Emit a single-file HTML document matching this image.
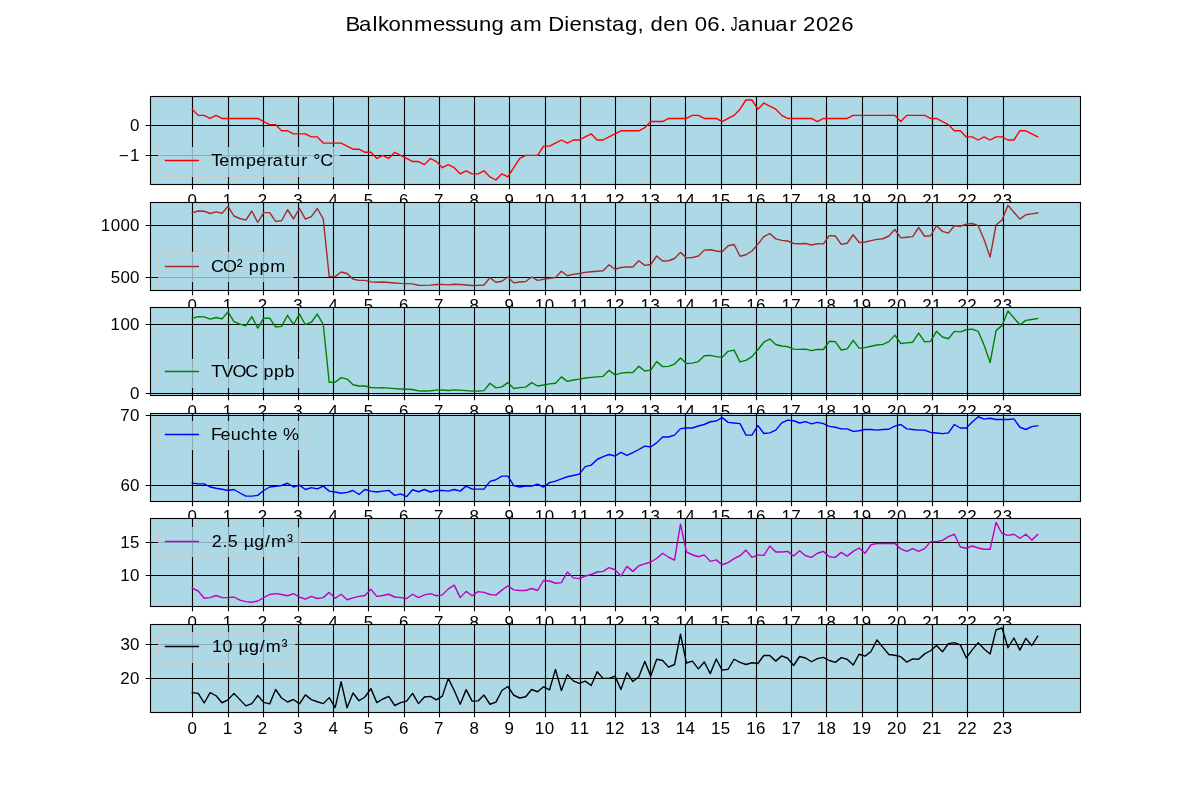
<!DOCTYPE html>
<html><head><meta charset="utf-8"><title>Balkonmessung</title>
<style>html,body{margin:0;padding:0;background:#fff}body{width:1200px;height:800px;overflow:hidden}svg{display:block;will-change:transform;font-family:"Liberation Sans",sans-serif}</style></head>
<body>
<svg width="1200" height="800" viewBox="0 0 1200 800">
<rect width="1200" height="800" fill="#fff"/>
<text transform="translate(0 30.90) scale(1.07 1)" x="322.94 335.55 348.06 353.30 363.08 374.75 386.93 404.63 415.93 425.67 435.71 447.63 459.35 471.23 476.32 489.06 506.84 512.41 527.38 532.30 543.97 555.44 566.09 571.92 584.21 595.90 602.04 607.96 619.78 631.45 643.19 649.22 661.11 672.91 678.86 682.92 689.46 701.88 713.64 724.61 737.55 744.60 750.38 762.52 774.17 786.30" y="0" font-size="20.70" fill="#000">Balkonmessung am Dienstag, den 06. <tspan textLength="6.42" lengthAdjust="spacingAndGlyphs">J</tspan>anuar 2026</text>
<g>
<rect x="150" y="96" width="930" height="88" fill="#add8e6"/>
<path d="M192.5 96V184M228.5 96V184M263.5 96V184M298.5 96V184M333.5 96V184M368.5 96V184M404.5 96V184M439.5 96V184M474.5 96V184M509.5 96V184M545.5 96V184M580.5 96V184M615.5 96V184M650.5 96V184M685.5 96V184M721.5 96V184M756.5 96V184M791.5 96V184M826.5 96V184M862.5 96V184M897.5 96V184M932.5 96V184M967.5 96V184M1003.5 96V184M150 125.5H1080M150 155.5H1080" stroke="#000" stroke-width="1.11" fill="none"/>
<polyline points="192.27,109.23 198.22,115.38 204.18,115.38 210.13,118.46 216.09,115.38 222.04,118.46 227.99,118.46 233.95,118.46 239.90,118.46 245.86,118.46 251.81,118.46 257.76,118.46 263.72,121.54 269.67,124.62 275.63,124.62 281.58,130.77 287.53,130.77 293.49,133.85 299.44,133.85 305.39,133.85 311.35,136.92 317.30,136.92 323.26,143.08 329.21,143.08 335.16,143.08 341.12,143.08 347.07,146.15 353.03,149.23 358.98,149.23 364.93,152.31 370.89,152.31 376.84,158.46 382.80,155.38 388.75,158.46 394.70,152.31 400.66,155.38 406.61,158.46 412.57,161.54 418.52,161.54 424.47,164.61 430.43,158.46 436.38,161.54 442.34,167.69 448.29,164.61 454.24,167.69 460.20,173.85 466.15,170.77 472.11,173.85 478.06,173.85 484.01,170.77 489.97,176.92 495.92,180.00 501.88,173.85 507.83,176.92 513.78,167.69 519.74,158.46 525.69,155.38 531.64,155.38 537.60,155.38 543.55,146.15 549.51,146.15 555.46,143.08 561.41,140.00 567.37,143.08 573.32,140.00 579.28,140.00 585.23,136.92 591.18,133.85 597.14,140.00 603.09,140.00 609.05,136.92 615.00,133.85 620.95,130.77 626.91,130.77 632.86,130.77 638.82,130.77 644.77,127.69 650.72,121.54 656.68,121.54 662.63,121.54 668.59,118.46 674.54,118.46 680.49,118.46 686.45,118.46 692.40,115.38 698.36,115.38 704.31,118.46 710.26,118.46 716.22,118.46 722.17,121.54 728.12,118.46 734.08,115.38 740.03,109.23 745.99,100.00 751.94,100.00 757.89,109.23 763.85,103.08 769.80,106.15 775.76,109.23 781.71,115.38 787.66,118.46 793.62,118.46 799.57,118.46 805.53,118.46 811.48,118.46 817.43,121.54 823.39,118.46 829.34,118.46 835.30,118.46 841.25,118.46 847.20,118.46 853.16,115.38 859.11,115.38 865.07,115.38 871.02,115.38 876.97,115.38 882.93,115.38 888.88,115.38 894.84,115.38 900.79,121.54 906.74,115.38 912.70,115.38 918.65,115.38 924.61,115.38 930.56,118.46 936.51,118.46 942.47,121.54 948.42,124.62 954.37,130.77 960.33,130.77 966.28,136.92 972.24,136.92 978.19,140.00 984.14,136.92 990.10,140.00 996.05,136.92 1002.01,136.92 1007.96,140.00 1013.91,140.00 1019.87,130.77 1025.82,130.77 1031.78,133.85 1037.73,136.92" fill="none" stroke="#ff0000" stroke-width="1.39" stroke-linejoin="round" stroke-linecap="square"/>
<path d="M192.5 184.5v4.86M228.5 184.5v4.86M263.5 184.5v4.86M298.5 184.5v4.86M333.5 184.5v4.86M368.5 184.5v4.86M404.5 184.5v4.86M439.5 184.5v4.86M474.5 184.5v4.86M509.5 184.5v4.86M545.5 184.5v4.86M580.5 184.5v4.86M615.5 184.5v4.86M650.5 184.5v4.86M685.5 184.5v4.86M721.5 184.5v4.86M756.5 184.5v4.86M791.5 184.5v4.86M826.5 184.5v4.86M862.5 184.5v4.86M897.5 184.5v4.86M932.5 184.5v4.86M967.5 184.5v4.86M1003.5 184.5v4.86M150.5 125.5h-4.86M150.5 155.5h-4.86" stroke="#000" stroke-width="1.11" fill="none"/>
<rect x="150.5" y="96.5" width="930" height="88.0" fill="none" stroke="#000" stroke-width="1.11"/>
<text transform="translate(0 205.65) scale(1.07 1)" x="175.29" y="0" font-size="15.81" fill="#000">0</text>
<text transform="translate(0 205.65) scale(1.07 1)" x="208.13" y="0" font-size="15.81" fill="#000">1</text>
<text transform="translate(0 205.65) scale(1.07 1)" x="240.95" y="0" font-size="15.81" fill="#000">2</text>
<text transform="translate(0 205.65) scale(1.07 1)" x="274.08" y="0" font-size="15.81" fill="#000">3</text>
<text transform="translate(0 205.65) scale(1.07 1)" x="306.99" y="0" font-size="15.81" fill="#000">4</text>
<text transform="translate(0 205.65) scale(1.07 1)" x="339.85" y="0" font-size="15.81" fill="#000">5</text>
<text transform="translate(0 205.65) scale(1.07 1)" x="372.83" y="0" font-size="15.81" fill="#000">6</text>
<text transform="translate(0 205.65) scale(1.07 1)" x="405.72" y="0" font-size="15.81" fill="#000">7</text>
<text transform="translate(0 205.65) scale(1.07 1)" x="438.68" y="0" font-size="15.81" fill="#000">8</text>
<text transform="translate(0 205.65) scale(1.07 1)" x="471.55" y="0" font-size="15.81" fill="#000">9</text>
<text transform="translate(0 205.65) scale(1.07 1)" x="499.89 509.06" y="0" font-size="15.81" fill="#000">10</text>
<text transform="translate(0 205.65) scale(1.07 1)" x="532.81 541.90" y="0" font-size="15.81" fill="#000">11</text>
<text transform="translate(0 205.65) scale(1.07 1)" x="565.74 574.72" y="0" font-size="15.81" fill="#000">12</text>
<text transform="translate(0 205.65) scale(1.07 1)" x="598.66 607.85" y="0" font-size="15.81" fill="#000">13</text>
<text transform="translate(0 205.65) scale(1.07 1)" x="631.58 640.75" y="0" font-size="15.81" fill="#000">14</text>
<text transform="translate(0 205.65) scale(1.07 1)" x="664.50 673.62" y="0" font-size="15.81" fill="#000">15</text>
<text transform="translate(0 205.65) scale(1.07 1)" x="697.43 706.60" y="0" font-size="15.81" fill="#000">16</text>
<text transform="translate(0 205.65) scale(1.07 1)" x="730.35 739.49" y="0" font-size="15.81" fill="#000">17</text>
<text transform="translate(0 205.65) scale(1.07 1)" x="763.27 772.44" y="0" font-size="15.81" fill="#000">18</text>
<text transform="translate(0 205.65) scale(1.07 1)" x="796.20 805.32" y="0" font-size="15.81" fill="#000">19</text>
<text transform="translate(0 205.65) scale(1.07 1)" x="829.02 838.29" y="0" font-size="15.81" fill="#000">20</text>
<text transform="translate(0 205.65) scale(1.07 1)" x="861.94 871.12" y="0" font-size="15.81" fill="#000">21</text>
<text transform="translate(0 205.65) scale(1.07 1)" x="894.86 903.95" y="0" font-size="15.81" fill="#000">22</text>
<text transform="translate(0 205.65) scale(1.07 1)" x="927.78 937.08" y="0" font-size="15.81" fill="#000">23</text>
<text transform="translate(0 130.80) scale(1.07 1)" x="121.62" y="0" font-size="15.81" fill="#000">0</text>
<text transform="translate(0 160.80) scale(1.07 1)" x="110.87 121.53" y="0" font-size="15.81" fill="#000">−1</text>
<rect x="158.5" y="147.5" width="181.00" height="28.90" rx="3.3" ry="3.3" fill="#add8e6" fill-opacity="0.8" stroke="#ccc" stroke-opacity="0.8" stroke-width="1.2"/>
<path d="M164.8 160.5H199.1" stroke="#ff0000" stroke-width="1.39" fill="none"/>
<text transform="translate(0 166.00) scale(1.04 1)" x="203.16 210.76 221.12 236.45 246.40 256.82 262.19 273.21 279.04 289.67 295.69 301.19 307.91" y="0" font-size="17.25" fill="#000">Temperatur °C</text>
</g>
<g>
<rect x="150" y="202" width="930" height="88" fill="#add8e6"/>
<path d="M192.5 202V290M228.5 202V290M263.5 202V290M298.5 202V290M333.5 202V290M368.5 202V290M404.5 202V290M439.5 202V290M474.5 202V290M509.5 202V290M545.5 202V290M580.5 202V290M615.5 202V290M650.5 202V290M685.5 202V290M721.5 202V290M756.5 202V290M791.5 202V290M826.5 202V290M862.5 202V290M897.5 202V290M932.5 202V290M967.5 202V290M1003.5 202V290M150 225.5H1080M150 277.5H1080" stroke="#000" stroke-width="1.11" fill="none"/>
<polyline points="192.27,212.88 198.22,211.00 204.18,211.25 210.13,213.50 216.09,211.88 222.04,213.25 227.99,206.38 233.95,216.00 239.90,218.50 245.86,220.12 251.81,211.00 257.76,222.50 263.72,212.62 269.67,212.62 275.63,221.38 281.58,220.75 287.53,209.75 293.49,218.88 299.44,208.50 305.39,219.12 311.35,216.62 317.30,208.50 323.26,218.88 329.21,276.62 335.16,276.62 341.12,272.00 347.07,273.50 353.03,279.12 358.98,280.38 364.93,280.38 370.89,281.88 376.84,282.25 382.80,282.00 388.75,282.50 394.70,283.00 400.66,283.38 406.61,283.62 412.57,283.88 418.52,285.25 424.47,285.38 430.43,285.12 436.38,284.50 442.34,284.38 448.29,284.88 454.24,284.25 460.20,284.50 466.15,285.00 472.11,285.50 478.06,285.38 484.01,285.00 489.97,277.62 495.92,282.25 501.88,281.25 507.83,277.00 513.78,282.88 519.74,282.00 525.69,281.50 531.64,277.00 537.60,280.38 543.55,279.38 549.51,278.25 555.46,277.62 561.41,271.25 567.37,275.75 573.32,274.38 579.28,273.50 585.23,272.38 591.18,271.75 597.14,271.25 603.09,270.75 609.05,264.75 615.00,269.25 620.95,267.50 626.91,266.88 632.86,267.00 638.82,260.75 644.77,265.38 650.72,264.50 656.68,256.00 662.63,261.00 668.59,260.75 674.54,258.50 680.49,252.38 686.45,257.88 692.40,257.50 698.36,256.00 704.31,250.12 710.26,249.75 716.22,251.00 722.17,251.75 728.12,245.75 734.08,244.50 740.03,256.25 745.99,254.75 751.94,251.00 757.89,244.12 763.85,236.62 769.80,233.50 775.76,238.88 781.71,240.38 787.66,241.00 793.62,243.50 799.57,243.75 805.53,243.50 811.48,245.00 817.43,243.75 823.39,243.88 829.34,235.62 835.30,236.00 841.25,244.38 847.20,243.25 853.16,234.75 859.11,242.50 865.07,242.00 871.02,240.62 876.97,239.38 882.93,238.75 888.88,236.00 894.84,229.50 900.79,237.88 906.74,237.25 912.70,236.62 918.65,227.50 924.61,236.25 930.56,235.75 936.51,225.75 942.47,231.38 948.42,233.12 954.37,225.75 960.33,226.25 966.28,224.12 972.24,223.50 978.19,225.75 984.14,239.75 990.10,257.00 996.05,225.00 1002.01,220.00 1007.96,205.38 1013.91,212.25 1019.87,219.12 1025.82,214.75 1031.78,213.88 1037.73,212.88" fill="none" stroke="#a52a2a" stroke-width="1.39" stroke-linejoin="round" stroke-linecap="square"/>
<path d="M192.5 290.5v4.86M228.5 290.5v4.86M263.5 290.5v4.86M298.5 290.5v4.86M333.5 290.5v4.86M368.5 290.5v4.86M404.5 290.5v4.86M439.5 290.5v4.86M474.5 290.5v4.86M509.5 290.5v4.86M545.5 290.5v4.86M580.5 290.5v4.86M615.5 290.5v4.86M650.5 290.5v4.86M685.5 290.5v4.86M721.5 290.5v4.86M756.5 290.5v4.86M791.5 290.5v4.86M826.5 290.5v4.86M862.5 290.5v4.86M897.5 290.5v4.86M932.5 290.5v4.86M967.5 290.5v4.86M1003.5 290.5v4.86M150.5 225.5h-4.86M150.5 277.5h-4.86" stroke="#000" stroke-width="1.11" fill="none"/>
<rect x="150.5" y="202.5" width="930" height="88.0" fill="none" stroke="#000" stroke-width="1.11"/>
<text transform="translate(0 311.25) scale(1.07 1)" x="175.29" y="0" font-size="15.81" fill="#000">0</text>
<text transform="translate(0 311.25) scale(1.07 1)" x="208.13" y="0" font-size="15.81" fill="#000">1</text>
<text transform="translate(0 311.25) scale(1.07 1)" x="240.95" y="0" font-size="15.81" fill="#000">2</text>
<text transform="translate(0 311.25) scale(1.07 1)" x="274.08" y="0" font-size="15.81" fill="#000">3</text>
<text transform="translate(0 311.25) scale(1.07 1)" x="306.99" y="0" font-size="15.81" fill="#000">4</text>
<text transform="translate(0 311.25) scale(1.07 1)" x="339.85" y="0" font-size="15.81" fill="#000">5</text>
<text transform="translate(0 311.25) scale(1.07 1)" x="372.83" y="0" font-size="15.81" fill="#000">6</text>
<text transform="translate(0 311.25) scale(1.07 1)" x="405.72" y="0" font-size="15.81" fill="#000">7</text>
<text transform="translate(0 311.25) scale(1.07 1)" x="438.68" y="0" font-size="15.81" fill="#000">8</text>
<text transform="translate(0 311.25) scale(1.07 1)" x="471.55" y="0" font-size="15.81" fill="#000">9</text>
<text transform="translate(0 311.25) scale(1.07 1)" x="499.89 509.06" y="0" font-size="15.81" fill="#000">10</text>
<text transform="translate(0 311.25) scale(1.07 1)" x="532.81 541.90" y="0" font-size="15.81" fill="#000">11</text>
<text transform="translate(0 311.25) scale(1.07 1)" x="565.74 574.72" y="0" font-size="15.81" fill="#000">12</text>
<text transform="translate(0 311.25) scale(1.07 1)" x="598.66 607.85" y="0" font-size="15.81" fill="#000">13</text>
<text transform="translate(0 311.25) scale(1.07 1)" x="631.58 640.75" y="0" font-size="15.81" fill="#000">14</text>
<text transform="translate(0 311.25) scale(1.07 1)" x="664.50 673.62" y="0" font-size="15.81" fill="#000">15</text>
<text transform="translate(0 311.25) scale(1.07 1)" x="697.43 706.60" y="0" font-size="15.81" fill="#000">16</text>
<text transform="translate(0 311.25) scale(1.07 1)" x="730.35 739.49" y="0" font-size="15.81" fill="#000">17</text>
<text transform="translate(0 311.25) scale(1.07 1)" x="763.27 772.44" y="0" font-size="15.81" fill="#000">18</text>
<text transform="translate(0 311.25) scale(1.07 1)" x="796.20 805.32" y="0" font-size="15.81" fill="#000">19</text>
<text transform="translate(0 311.25) scale(1.07 1)" x="829.02 838.29" y="0" font-size="15.81" fill="#000">20</text>
<text transform="translate(0 311.25) scale(1.07 1)" x="861.94 871.12" y="0" font-size="15.81" fill="#000">21</text>
<text transform="translate(0 311.25) scale(1.07 1)" x="894.86 903.95" y="0" font-size="15.81" fill="#000">22</text>
<text transform="translate(0 311.25) scale(1.07 1)" x="927.78 937.08" y="0" font-size="15.81" fill="#000">23</text>
<text transform="translate(0 230.80) scale(1.07 1)" x="94.28 103.45 112.53 121.62" y="0" font-size="15.81" fill="#000">1000</text>
<text transform="translate(0 282.80) scale(1.07 1)" x="103.40 112.53 121.62" y="0" font-size="15.81" fill="#000">500</text>
<rect x="158.5" y="252.4" width="134.10" height="29.10" rx="3.3" ry="3.3" fill="#add8e6" fill-opacity="0.8" stroke="#ccc" stroke-opacity="0.8" stroke-width="1.2"/>
<path d="M164.8 266.5H199.1" stroke="#a52a2a" stroke-width="1.39" fill="none"/>
<text transform="translate(0 272.10) scale(1.04 1)" x="202.80 214.32 227.53 233.91 239.24 249.41 259.86" y="0" font-size="17.25" fill="#000">CO² ppm</text>
</g>
<g>
<rect x="150" y="307" width="930" height="88" fill="#add8e6"/>
<path d="M192.5 307V395M228.5 307V395M263.5 307V395M298.5 307V395M333.5 307V395M368.5 307V395M404.5 307V395M439.5 307V395M474.5 307V395M509.5 307V395M545.5 307V395M580.5 307V395M615.5 307V395M650.5 307V395M685.5 307V395M721.5 307V395M756.5 307V395M791.5 307V395M826.5 307V395M862.5 307V395M897.5 307V395M932.5 307V395M967.5 307V395M1003.5 307V395M150 324.5H1080M150 393.5H1080" stroke="#000" stroke-width="1.11" fill="none"/>
<polyline points="192.27,318.48 198.22,316.60 204.18,316.85 210.13,319.10 216.09,317.48 222.04,318.85 227.99,311.98 233.95,321.60 239.90,324.10 245.86,325.73 251.81,316.60 257.76,328.10 263.72,318.23 269.67,318.23 275.63,326.98 281.58,326.35 287.53,315.35 293.49,324.48 299.44,314.10 305.39,324.73 311.35,322.23 317.30,314.10 323.26,324.48 329.21,382.23 335.16,382.23 341.12,377.60 347.07,379.10 353.03,384.73 358.98,385.98 364.93,385.98 370.89,387.48 376.84,387.85 382.80,387.60 388.75,388.10 394.70,388.60 400.66,388.98 406.61,389.23 412.57,389.48 418.52,390.85 424.47,390.98 430.43,390.73 436.38,390.10 442.34,389.98 448.29,390.48 454.24,389.85 460.20,390.10 466.15,390.60 472.11,391.10 478.06,390.98 484.01,390.60 489.97,383.23 495.92,387.85 501.88,386.85 507.83,382.60 513.78,388.48 519.74,387.60 525.69,387.10 531.64,382.60 537.60,385.98 543.55,384.98 549.51,383.85 555.46,383.23 561.41,376.85 567.37,381.35 573.32,379.98 579.28,379.10 585.23,377.98 591.18,377.35 597.14,376.85 603.09,376.35 609.05,370.35 615.00,374.85 620.95,373.10 626.91,372.48 632.86,372.60 638.82,366.35 644.77,370.98 650.72,370.10 656.68,361.60 662.63,366.60 668.59,366.35 674.54,364.10 680.49,357.98 686.45,363.48 692.40,363.10 698.36,361.60 704.31,355.73 710.26,355.35 716.22,356.60 722.17,357.35 728.12,351.35 734.08,350.10 740.03,361.85 745.99,360.35 751.94,356.60 757.89,349.73 763.85,342.23 769.80,339.10 775.76,344.48 781.71,345.98 787.66,346.60 793.62,349.10 799.57,349.35 805.53,349.10 811.48,350.60 817.43,349.35 823.39,349.48 829.34,341.23 835.30,341.60 841.25,349.98 847.20,348.85 853.16,340.35 859.11,348.10 865.07,347.60 871.02,346.23 876.97,344.98 882.93,344.35 888.88,341.60 894.84,335.10 900.79,343.48 906.74,342.85 912.70,342.23 918.65,333.10 924.61,341.85 930.56,341.35 936.51,331.35 942.47,336.98 948.42,338.73 954.37,331.35 960.33,331.85 966.28,329.73 972.24,329.10 978.19,331.35 984.14,345.35 990.10,362.60 996.05,330.60 1002.01,325.60 1007.96,310.98 1013.91,317.85 1019.87,324.73 1025.82,320.35 1031.78,319.48 1037.73,318.48" fill="none" stroke="#008000" stroke-width="1.39" stroke-linejoin="round" stroke-linecap="square"/>
<path d="M192.5 395.5v4.86M228.5 395.5v4.86M263.5 395.5v4.86M298.5 395.5v4.86M333.5 395.5v4.86M368.5 395.5v4.86M404.5 395.5v4.86M439.5 395.5v4.86M474.5 395.5v4.86M509.5 395.5v4.86M545.5 395.5v4.86M580.5 395.5v4.86M615.5 395.5v4.86M650.5 395.5v4.86M685.5 395.5v4.86M721.5 395.5v4.86M756.5 395.5v4.86M791.5 395.5v4.86M826.5 395.5v4.86M862.5 395.5v4.86M897.5 395.5v4.86M932.5 395.5v4.86M967.5 395.5v4.86M1003.5 395.5v4.86M150.5 324.5h-4.86M150.5 393.5h-4.86" stroke="#000" stroke-width="1.11" fill="none"/>
<rect x="150.5" y="307.5" width="930" height="88.0" fill="none" stroke="#000" stroke-width="1.11"/>
<text transform="translate(0 416.85) scale(1.07 1)" x="175.29" y="0" font-size="15.81" fill="#000">0</text>
<text transform="translate(0 416.85) scale(1.07 1)" x="208.13" y="0" font-size="15.81" fill="#000">1</text>
<text transform="translate(0 416.85) scale(1.07 1)" x="240.95" y="0" font-size="15.81" fill="#000">2</text>
<text transform="translate(0 416.85) scale(1.07 1)" x="274.08" y="0" font-size="15.81" fill="#000">3</text>
<text transform="translate(0 416.85) scale(1.07 1)" x="306.99" y="0" font-size="15.81" fill="#000">4</text>
<text transform="translate(0 416.85) scale(1.07 1)" x="339.85" y="0" font-size="15.81" fill="#000">5</text>
<text transform="translate(0 416.85) scale(1.07 1)" x="372.83" y="0" font-size="15.81" fill="#000">6</text>
<text transform="translate(0 416.85) scale(1.07 1)" x="405.72" y="0" font-size="15.81" fill="#000">7</text>
<text transform="translate(0 416.85) scale(1.07 1)" x="438.68" y="0" font-size="15.81" fill="#000">8</text>
<text transform="translate(0 416.85) scale(1.07 1)" x="471.55" y="0" font-size="15.81" fill="#000">9</text>
<text transform="translate(0 416.85) scale(1.07 1)" x="499.89 509.06" y="0" font-size="15.81" fill="#000">10</text>
<text transform="translate(0 416.85) scale(1.07 1)" x="532.81 541.90" y="0" font-size="15.81" fill="#000">11</text>
<text transform="translate(0 416.85) scale(1.07 1)" x="565.74 574.72" y="0" font-size="15.81" fill="#000">12</text>
<text transform="translate(0 416.85) scale(1.07 1)" x="598.66 607.85" y="0" font-size="15.81" fill="#000">13</text>
<text transform="translate(0 416.85) scale(1.07 1)" x="631.58 640.75" y="0" font-size="15.81" fill="#000">14</text>
<text transform="translate(0 416.85) scale(1.07 1)" x="664.50 673.62" y="0" font-size="15.81" fill="#000">15</text>
<text transform="translate(0 416.85) scale(1.07 1)" x="697.43 706.60" y="0" font-size="15.81" fill="#000">16</text>
<text transform="translate(0 416.85) scale(1.07 1)" x="730.35 739.49" y="0" font-size="15.81" fill="#000">17</text>
<text transform="translate(0 416.85) scale(1.07 1)" x="763.27 772.44" y="0" font-size="15.81" fill="#000">18</text>
<text transform="translate(0 416.85) scale(1.07 1)" x="796.20 805.32" y="0" font-size="15.81" fill="#000">19</text>
<text transform="translate(0 416.85) scale(1.07 1)" x="829.02 838.29" y="0" font-size="15.81" fill="#000">20</text>
<text transform="translate(0 416.85) scale(1.07 1)" x="861.94 871.12" y="0" font-size="15.81" fill="#000">21</text>
<text transform="translate(0 416.85) scale(1.07 1)" x="894.86 903.95" y="0" font-size="15.81" fill="#000">22</text>
<text transform="translate(0 416.85) scale(1.07 1)" x="927.78 937.08" y="0" font-size="15.81" fill="#000">23</text>
<text transform="translate(0 329.80) scale(1.07 1)" x="103.36 112.53 121.62" y="0" font-size="15.81" fill="#000">100</text>
<text transform="translate(0 398.80) scale(1.07 1)" x="121.62" y="0" font-size="15.81" fill="#000">0</text>
<rect x="158.5" y="359.5" width="143.20" height="28.00" rx="3.3" ry="3.3" fill="#add8e6" fill-opacity="0.8" stroke="#ccc" stroke-opacity="0.8" stroke-width="1.2"/>
<path d="M164.8 371.5H199.1" stroke="#008000" stroke-width="1.39" fill="none"/>
<text transform="translate(0 377.10) scale(1.04 1)" x="203.16 213.04 223.60 235.89 247.95 253.28 263.45 273.63" y="0" font-size="17.25" fill="#000">TVOC ppb</text>
</g>
<g>
<rect x="150" y="413" width="930" height="88" fill="#add8e6"/>
<path d="M192.5 413V501M228.5 413V501M263.5 413V501M298.5 413V501M333.5 413V501M368.5 413V501M404.5 413V501M439.5 413V501M474.5 413V501M509.5 413V501M545.5 413V501M580.5 413V501M615.5 413V501M650.5 413V501M685.5 413V501M721.5 413V501M756.5 413V501M791.5 413V501M826.5 413V501M862.5 413V501M897.5 413V501M932.5 413V501M967.5 413V501M1003.5 413V501M150 415.5H1080M150 485.5H1080" stroke="#000" stroke-width="1.11" fill="none"/>
<polyline points="192.27,483.25 198.22,483.88 204.18,483.88 210.13,487.00 216.09,488.25 222.04,489.25 227.99,490.50 233.95,489.50 239.90,493.00 245.86,496.12 251.81,496.12 257.76,495.38 263.72,490.50 269.67,487.00 275.63,486.38 281.58,485.50 287.53,483.25 293.49,487.00 299.44,485.12 305.39,489.50 311.35,487.62 317.30,488.88 323.26,486.12 329.21,491.12 335.16,492.00 341.12,493.25 347.07,492.38 353.03,490.50 358.98,494.50 364.93,489.50 370.89,491.12 376.84,492.00 382.80,491.12 388.75,490.38 394.70,495.38 400.66,493.88 406.61,496.62 412.57,489.75 418.52,491.75 424.47,489.50 430.43,492.00 436.38,490.50 442.34,490.38 448.29,491.12 454.24,489.50 460.20,491.12 466.15,486.12 472.11,489.12 478.06,489.12 484.01,489.12 489.97,481.38 495.92,479.75 501.88,476.12 507.83,476.12 513.78,485.50 519.74,487.00 525.69,486.12 531.64,486.12 537.60,484.25 543.55,487.00 549.51,482.62 555.46,481.12 561.41,478.88 567.37,476.75 573.32,475.50 579.28,474.12 585.23,466.62 591.18,465.12 597.14,459.50 603.09,456.62 609.05,454.50 615.00,456.00 620.95,452.38 626.91,455.38 632.86,452.62 638.82,449.50 644.77,446.12 650.72,447.00 656.68,442.88 662.63,437.00 668.59,437.00 674.54,435.12 680.49,428.62 686.45,428.00 692.40,428.00 698.36,426.00 704.31,424.50 710.26,421.75 716.22,421.00 722.17,417.62 728.12,422.38 734.08,423.00 740.03,423.62 745.99,435.12 751.94,435.12 757.89,425.50 763.85,433.50 769.80,432.88 775.76,430.12 781.71,422.88 787.66,420.12 793.62,420.75 799.57,423.00 805.53,421.62 811.48,423.88 817.43,422.38 823.39,423.62 829.34,426.38 835.30,427.25 841.25,428.88 847.20,428.88 853.16,431.38 859.11,430.75 865.07,429.50 871.02,429.50 876.97,430.12 882.93,429.50 888.88,429.25 894.84,426.12 900.79,424.50 906.74,428.88 912.70,429.50 918.65,430.12 924.61,430.12 930.56,432.38 936.51,433.00 942.47,433.62 948.42,432.88 954.37,424.50 960.33,428.00 966.28,428.00 972.24,422.00 978.19,416.75 984.14,419.12 990.10,418.25 996.05,419.50 1002.01,419.50 1007.96,419.50 1013.91,418.88 1019.87,427.25 1025.82,429.50 1031.78,426.62 1037.73,425.75" fill="none" stroke="#0000ff" stroke-width="1.39" stroke-linejoin="round" stroke-linecap="square"/>
<path d="M192.5 501.5v4.86M228.5 501.5v4.86M263.5 501.5v4.86M298.5 501.5v4.86M333.5 501.5v4.86M368.5 501.5v4.86M404.5 501.5v4.86M439.5 501.5v4.86M474.5 501.5v4.86M509.5 501.5v4.86M545.5 501.5v4.86M580.5 501.5v4.86M615.5 501.5v4.86M650.5 501.5v4.86M685.5 501.5v4.86M721.5 501.5v4.86M756.5 501.5v4.86M791.5 501.5v4.86M826.5 501.5v4.86M862.5 501.5v4.86M897.5 501.5v4.86M932.5 501.5v4.86M967.5 501.5v4.86M1003.5 501.5v4.86M150.5 415.5h-4.86M150.5 485.5h-4.86" stroke="#000" stroke-width="1.11" fill="none"/>
<rect x="150.5" y="413.5" width="930" height="88.0" fill="none" stroke="#000" stroke-width="1.11"/>
<text transform="translate(0 522.45) scale(1.07 1)" x="175.29" y="0" font-size="15.81" fill="#000">0</text>
<text transform="translate(0 522.45) scale(1.07 1)" x="208.13" y="0" font-size="15.81" fill="#000">1</text>
<text transform="translate(0 522.45) scale(1.07 1)" x="240.95" y="0" font-size="15.81" fill="#000">2</text>
<text transform="translate(0 522.45) scale(1.07 1)" x="274.08" y="0" font-size="15.81" fill="#000">3</text>
<text transform="translate(0 522.45) scale(1.07 1)" x="306.99" y="0" font-size="15.81" fill="#000">4</text>
<text transform="translate(0 522.45) scale(1.07 1)" x="339.85" y="0" font-size="15.81" fill="#000">5</text>
<text transform="translate(0 522.45) scale(1.07 1)" x="372.83" y="0" font-size="15.81" fill="#000">6</text>
<text transform="translate(0 522.45) scale(1.07 1)" x="405.72" y="0" font-size="15.81" fill="#000">7</text>
<text transform="translate(0 522.45) scale(1.07 1)" x="438.68" y="0" font-size="15.81" fill="#000">8</text>
<text transform="translate(0 522.45) scale(1.07 1)" x="471.55" y="0" font-size="15.81" fill="#000">9</text>
<text transform="translate(0 522.45) scale(1.07 1)" x="499.89 509.06" y="0" font-size="15.81" fill="#000">10</text>
<text transform="translate(0 522.45) scale(1.07 1)" x="532.81 541.90" y="0" font-size="15.81" fill="#000">11</text>
<text transform="translate(0 522.45) scale(1.07 1)" x="565.74 574.72" y="0" font-size="15.81" fill="#000">12</text>
<text transform="translate(0 522.45) scale(1.07 1)" x="598.66 607.85" y="0" font-size="15.81" fill="#000">13</text>
<text transform="translate(0 522.45) scale(1.07 1)" x="631.58 640.75" y="0" font-size="15.81" fill="#000">14</text>
<text transform="translate(0 522.45) scale(1.07 1)" x="664.50 673.62" y="0" font-size="15.81" fill="#000">15</text>
<text transform="translate(0 522.45) scale(1.07 1)" x="697.43 706.60" y="0" font-size="15.81" fill="#000">16</text>
<text transform="translate(0 522.45) scale(1.07 1)" x="730.35 739.49" y="0" font-size="15.81" fill="#000">17</text>
<text transform="translate(0 522.45) scale(1.07 1)" x="763.27 772.44" y="0" font-size="15.81" fill="#000">18</text>
<text transform="translate(0 522.45) scale(1.07 1)" x="796.20 805.32" y="0" font-size="15.81" fill="#000">19</text>
<text transform="translate(0 522.45) scale(1.07 1)" x="829.02 838.29" y="0" font-size="15.81" fill="#000">20</text>
<text transform="translate(0 522.45) scale(1.07 1)" x="861.94 871.12" y="0" font-size="15.81" fill="#000">21</text>
<text transform="translate(0 522.45) scale(1.07 1)" x="894.86 903.95" y="0" font-size="15.81" fill="#000">22</text>
<text transform="translate(0 522.45) scale(1.07 1)" x="927.78 937.08" y="0" font-size="15.81" fill="#000">23</text>
<text transform="translate(0 420.80) scale(1.07 1)" x="112.51 121.62" y="0" font-size="15.81" fill="#000">70</text>
<text transform="translate(0 490.80) scale(1.07 1)" x="112.53 121.62" y="0" font-size="15.81" fill="#000">60</text>
<rect x="158.5" y="421.5" width="147.60" height="28.00" rx="3.3" ry="3.3" fill="#add8e6" fill-opacity="0.8" stroke="#ccc" stroke-opacity="0.8" stroke-width="1.2"/>
<path d="M164.8 434.5H199.1" stroke="#0000ff" stroke-width="1.39" fill="none"/>
<text transform="translate(0 440.10) scale(1.04 1)" x="202.83 212.04 221.98 231.79 240.99 251.56 257.30 267.15 272.04" y="0" font-size="17.25" fill="#000">Feuchte %</text>
</g>
<g>
<rect x="150" y="518" width="930" height="88" fill="#add8e6"/>
<path d="M192.5 518V606M228.5 518V606M263.5 518V606M298.5 518V606M333.5 518V606M368.5 518V606M404.5 518V606M439.5 518V606M474.5 518V606M509.5 518V606M545.5 518V606M580.5 518V606M615.5 518V606M650.5 518V606M685.5 518V606M721.5 518V606M756.5 518V606M791.5 518V606M826.5 518V606M862.5 518V606M897.5 518V606M932.5 518V606M967.5 518V606M1003.5 518V606M150 542.5H1080M150 575.5H1080" stroke="#000" stroke-width="1.11" fill="none"/>
<polyline points="192.27,588.25 198.22,591.00 204.18,598.25 210.13,597.62 216.09,595.50 222.04,597.62 227.99,597.62 233.95,597.00 239.90,600.12 245.86,601.62 251.81,602.25 257.76,601.00 263.72,597.62 269.67,594.50 275.63,593.62 281.58,594.50 287.53,595.75 293.49,593.62 299.44,597.00 305.39,599.12 311.35,596.38 317.30,598.50 323.26,597.62 329.21,592.38 335.16,598.25 341.12,594.25 347.07,599.75 353.03,597.88 358.98,596.38 364.93,595.50 370.89,589.25 376.84,596.38 382.80,595.50 388.75,594.25 394.70,597.00 400.66,597.62 406.61,598.50 412.57,594.25 418.52,597.62 424.47,594.88 430.43,593.62 436.38,595.75 442.34,594.88 448.29,588.88 454.24,585.12 460.20,597.62 466.15,591.38 472.11,595.75 478.06,591.62 484.01,592.38 489.97,594.50 495.92,595.12 501.88,590.12 507.83,585.75 513.78,589.88 519.74,590.50 525.69,590.50 531.64,588.50 537.60,590.50 543.55,580.50 549.51,581.00 555.46,583.25 561.41,582.62 567.37,572.00 573.32,577.88 579.28,578.62 585.23,576.00 591.18,574.50 597.14,572.00 603.09,571.38 609.05,567.62 615.00,569.75 620.95,576.00 626.91,566.38 632.86,571.38 638.82,565.75 644.77,563.88 650.72,562.00 656.68,558.50 662.63,553.25 668.59,557.25 674.54,560.12 680.49,524.12 686.45,552.00 692.40,554.75 698.36,556.75 704.31,554.88 710.26,561.38 716.22,559.88 722.17,564.75 728.12,562.62 734.08,558.62 740.03,555.75 745.99,550.12 751.94,557.38 757.89,554.88 763.85,555.38 769.80,546.00 775.76,552.00 781.71,552.00 787.66,551.38 793.62,556.00 799.57,550.75 805.53,555.75 811.48,557.38 817.43,553.25 823.39,551.38 829.34,556.75 835.30,557.38 841.25,552.38 847.20,556.12 853.16,551.38 859.11,548.00 865.07,553.25 871.02,544.75 876.97,543.50 882.93,543.50 888.88,543.50 894.84,543.50 900.79,548.88 906.74,551.38 912.70,548.62 918.65,551.38 924.61,548.62 930.56,541.62 936.51,541.62 942.47,540.38 948.42,536.62 954.37,534.25 960.33,547.00 966.28,548.25 972.24,546.00 978.19,548.00 984.14,549.25 990.10,549.25 996.05,522.38 1002.01,533.50 1007.96,535.38 1013.91,534.25 1019.87,538.25 1025.82,534.25 1031.78,540.12 1037.73,534.50" fill="none" stroke="#bf00bf" stroke-width="1.39" stroke-linejoin="round" stroke-linecap="square"/>
<path d="M192.5 606.5v4.86M228.5 606.5v4.86M263.5 606.5v4.86M298.5 606.5v4.86M333.5 606.5v4.86M368.5 606.5v4.86M404.5 606.5v4.86M439.5 606.5v4.86M474.5 606.5v4.86M509.5 606.5v4.86M545.5 606.5v4.86M580.5 606.5v4.86M615.5 606.5v4.86M650.5 606.5v4.86M685.5 606.5v4.86M721.5 606.5v4.86M756.5 606.5v4.86M791.5 606.5v4.86M826.5 606.5v4.86M862.5 606.5v4.86M897.5 606.5v4.86M932.5 606.5v4.86M967.5 606.5v4.86M1003.5 606.5v4.86M150.5 542.5h-4.86M150.5 575.5h-4.86" stroke="#000" stroke-width="1.11" fill="none"/>
<rect x="150.5" y="518.5" width="930" height="88.0" fill="none" stroke="#000" stroke-width="1.11"/>
<text transform="translate(0 628.05) scale(1.07 1)" x="175.29" y="0" font-size="15.81" fill="#000">0</text>
<text transform="translate(0 628.05) scale(1.07 1)" x="208.13" y="0" font-size="15.81" fill="#000">1</text>
<text transform="translate(0 628.05) scale(1.07 1)" x="240.95" y="0" font-size="15.81" fill="#000">2</text>
<text transform="translate(0 628.05) scale(1.07 1)" x="274.08" y="0" font-size="15.81" fill="#000">3</text>
<text transform="translate(0 628.05) scale(1.07 1)" x="306.99" y="0" font-size="15.81" fill="#000">4</text>
<text transform="translate(0 628.05) scale(1.07 1)" x="339.85" y="0" font-size="15.81" fill="#000">5</text>
<text transform="translate(0 628.05) scale(1.07 1)" x="372.83" y="0" font-size="15.81" fill="#000">6</text>
<text transform="translate(0 628.05) scale(1.07 1)" x="405.72" y="0" font-size="15.81" fill="#000">7</text>
<text transform="translate(0 628.05) scale(1.07 1)" x="438.68" y="0" font-size="15.81" fill="#000">8</text>
<text transform="translate(0 628.05) scale(1.07 1)" x="471.55" y="0" font-size="15.81" fill="#000">9</text>
<text transform="translate(0 628.05) scale(1.07 1)" x="499.89 509.06" y="0" font-size="15.81" fill="#000">10</text>
<text transform="translate(0 628.05) scale(1.07 1)" x="532.81 541.90" y="0" font-size="15.81" fill="#000">11</text>
<text transform="translate(0 628.05) scale(1.07 1)" x="565.74 574.72" y="0" font-size="15.81" fill="#000">12</text>
<text transform="translate(0 628.05) scale(1.07 1)" x="598.66 607.85" y="0" font-size="15.81" fill="#000">13</text>
<text transform="translate(0 628.05) scale(1.07 1)" x="631.58 640.75" y="0" font-size="15.81" fill="#000">14</text>
<text transform="translate(0 628.05) scale(1.07 1)" x="664.50 673.62" y="0" font-size="15.81" fill="#000">15</text>
<text transform="translate(0 628.05) scale(1.07 1)" x="697.43 706.60" y="0" font-size="15.81" fill="#000">16</text>
<text transform="translate(0 628.05) scale(1.07 1)" x="730.35 739.49" y="0" font-size="15.81" fill="#000">17</text>
<text transform="translate(0 628.05) scale(1.07 1)" x="763.27 772.44" y="0" font-size="15.81" fill="#000">18</text>
<text transform="translate(0 628.05) scale(1.07 1)" x="796.20 805.32" y="0" font-size="15.81" fill="#000">19</text>
<text transform="translate(0 628.05) scale(1.07 1)" x="829.02 838.29" y="0" font-size="15.81" fill="#000">20</text>
<text transform="translate(0 628.05) scale(1.07 1)" x="861.94 871.12" y="0" font-size="15.81" fill="#000">21</text>
<text transform="translate(0 628.05) scale(1.07 1)" x="894.86 903.95" y="0" font-size="15.81" fill="#000">22</text>
<text transform="translate(0 628.05) scale(1.07 1)" x="927.78 937.08" y="0" font-size="15.81" fill="#000">23</text>
<text transform="translate(0 547.80) scale(1.07 1)" x="112.45 121.56" y="0" font-size="15.81" fill="#000">15</text>
<text transform="translate(0 580.80) scale(1.07 1)" x="112.45 121.62" y="0" font-size="15.81" fill="#000">10</text>
<rect x="158.5" y="527.5" width="141.70" height="29.00" rx="3.3" ry="3.3" fill="#add8e6" fill-opacity="0.8" stroke="#ccc" stroke-opacity="0.8" stroke-width="1.2"/>
<path d="M164.8 541.5H199.1" stroke="#bf00bf" stroke-width="1.39" fill="none"/>
<text transform="translate(0 547.30) scale(1.04 1)" x="203.61 213.87 219.05 229.17 234.33 244.50 254.78 260.54 275.86" y="0" font-size="17.25" fill="#000">2.5 µg/m³</text>
</g>
<g>
<rect x="150" y="624" width="930" height="88" fill="#add8e6"/>
<path d="M192.5 624V712M228.5 624V712M263.5 624V712M298.5 624V712M333.5 624V712M368.5 624V712M404.5 624V712M439.5 624V712M474.5 624V712M509.5 624V712M545.5 624V712M580.5 624V712M615.5 624V712M650.5 624V712M685.5 624V712M721.5 624V712M756.5 624V712M791.5 624V712M826.5 624V712M862.5 624V712M897.5 624V712M932.5 624V712M967.5 624V712M1003.5 624V712M150 644.5H1080M150 678.5H1080" stroke="#000" stroke-width="1.11" fill="none"/>
<polyline points="192.27,692.62 198.22,693.38 204.18,703.00 210.13,692.62 216.09,695.75 222.04,702.75 227.99,699.88 233.95,693.38 239.90,699.62 245.86,705.88 251.81,703.62 257.76,695.50 263.72,702.38 269.67,703.88 275.63,689.50 281.58,698.00 287.53,702.00 293.49,699.50 299.44,703.88 305.39,694.88 311.35,699.62 317.30,701.75 323.26,703.62 329.21,697.62 335.16,707.62 341.12,681.75 347.07,707.75 353.03,693.00 358.98,700.75 364.93,697.00 370.89,688.62 376.84,702.62 382.80,699.00 388.75,696.38 394.70,705.50 400.66,702.62 406.61,701.12 412.57,693.38 418.52,703.62 424.47,697.00 430.43,696.38 436.38,699.88 442.34,696.12 448.29,678.38 454.24,690.50 460.20,704.25 466.15,689.62 472.11,701.12 478.06,700.88 484.01,695.12 489.97,704.25 495.92,702.12 501.88,690.50 507.83,686.50 513.78,695.25 519.74,698.00 525.69,696.75 531.64,689.50 537.60,691.75 543.55,686.75 549.51,689.88 555.46,669.50 561.41,690.50 567.37,674.62 573.32,680.88 579.28,683.38 585.23,681.12 591.18,685.50 597.14,671.75 603.09,678.38 609.05,678.38 615.00,676.12 620.95,689.50 626.91,672.62 632.86,681.50 638.82,676.75 644.77,661.38 650.72,676.12 656.68,659.25 662.63,660.50 668.59,667.12 674.54,664.50 680.49,634.25 686.45,663.00 692.40,661.12 698.36,668.88 704.31,662.00 710.26,673.62 716.22,659.00 722.17,670.12 728.12,669.25 734.08,659.25 740.03,662.38 745.99,664.50 751.94,662.75 757.89,663.50 763.85,655.50 769.80,655.50 775.76,661.12 781.71,655.88 787.66,658.25 793.62,665.50 799.57,656.50 805.53,658.00 811.48,661.75 817.43,658.62 823.39,657.38 829.34,660.50 835.30,662.38 841.25,657.62 847.20,659.25 853.16,665.12 859.11,654.25 865.07,656.12 871.02,651.50 876.97,639.88 882.93,647.38 888.88,654.50 894.84,655.25 900.79,656.75 906.74,662.12 912.70,658.88 918.65,659.25 924.61,653.88 930.56,650.75 936.51,645.50 942.47,651.75 948.42,643.62 954.37,642.62 960.33,644.88 966.28,657.75 972.24,649.88 978.19,642.62 984.14,649.00 990.10,654.00 996.05,629.88 1002.01,628.00 1007.96,647.75 1013.91,638.00 1019.87,650.12 1025.82,638.38 1031.78,645.50 1037.73,636.12" fill="none" stroke="#000000" stroke-width="1.39" stroke-linejoin="round" stroke-linecap="square"/>
<path d="M192.5 712.5v4.86M228.5 712.5v4.86M263.5 712.5v4.86M298.5 712.5v4.86M333.5 712.5v4.86M368.5 712.5v4.86M404.5 712.5v4.86M439.5 712.5v4.86M474.5 712.5v4.86M509.5 712.5v4.86M545.5 712.5v4.86M580.5 712.5v4.86M615.5 712.5v4.86M650.5 712.5v4.86M685.5 712.5v4.86M721.5 712.5v4.86M756.5 712.5v4.86M791.5 712.5v4.86M826.5 712.5v4.86M862.5 712.5v4.86M897.5 712.5v4.86M932.5 712.5v4.86M967.5 712.5v4.86M1003.5 712.5v4.86M150.5 644.5h-4.86M150.5 678.5h-4.86" stroke="#000" stroke-width="1.11" fill="none"/>
<rect x="150.5" y="624.5" width="930" height="88.0" fill="none" stroke="#000" stroke-width="1.11"/>
<text transform="translate(0 733.65) scale(1.07 1)" x="175.29" y="0" font-size="15.81" fill="#000">0</text>
<text transform="translate(0 733.65) scale(1.07 1)" x="208.13" y="0" font-size="15.81" fill="#000">1</text>
<text transform="translate(0 733.65) scale(1.07 1)" x="240.95" y="0" font-size="15.81" fill="#000">2</text>
<text transform="translate(0 733.65) scale(1.07 1)" x="274.08" y="0" font-size="15.81" fill="#000">3</text>
<text transform="translate(0 733.65) scale(1.07 1)" x="306.99" y="0" font-size="15.81" fill="#000">4</text>
<text transform="translate(0 733.65) scale(1.07 1)" x="339.85" y="0" font-size="15.81" fill="#000">5</text>
<text transform="translate(0 733.65) scale(1.07 1)" x="372.83" y="0" font-size="15.81" fill="#000">6</text>
<text transform="translate(0 733.65) scale(1.07 1)" x="405.72" y="0" font-size="15.81" fill="#000">7</text>
<text transform="translate(0 733.65) scale(1.07 1)" x="438.68" y="0" font-size="15.81" fill="#000">8</text>
<text transform="translate(0 733.65) scale(1.07 1)" x="471.55" y="0" font-size="15.81" fill="#000">9</text>
<text transform="translate(0 733.65) scale(1.07 1)" x="499.89 509.06" y="0" font-size="15.81" fill="#000">10</text>
<text transform="translate(0 733.65) scale(1.07 1)" x="532.81 541.90" y="0" font-size="15.81" fill="#000">11</text>
<text transform="translate(0 733.65) scale(1.07 1)" x="565.74 574.72" y="0" font-size="15.81" fill="#000">12</text>
<text transform="translate(0 733.65) scale(1.07 1)" x="598.66 607.85" y="0" font-size="15.81" fill="#000">13</text>
<text transform="translate(0 733.65) scale(1.07 1)" x="631.58 640.75" y="0" font-size="15.81" fill="#000">14</text>
<text transform="translate(0 733.65) scale(1.07 1)" x="664.50 673.62" y="0" font-size="15.81" fill="#000">15</text>
<text transform="translate(0 733.65) scale(1.07 1)" x="697.43 706.60" y="0" font-size="15.81" fill="#000">16</text>
<text transform="translate(0 733.65) scale(1.07 1)" x="730.35 739.49" y="0" font-size="15.81" fill="#000">17</text>
<text transform="translate(0 733.65) scale(1.07 1)" x="763.27 772.44" y="0" font-size="15.81" fill="#000">18</text>
<text transform="translate(0 733.65) scale(1.07 1)" x="796.20 805.32" y="0" font-size="15.81" fill="#000">19</text>
<text transform="translate(0 733.65) scale(1.07 1)" x="829.02 838.29" y="0" font-size="15.81" fill="#000">20</text>
<text transform="translate(0 733.65) scale(1.07 1)" x="861.94 871.12" y="0" font-size="15.81" fill="#000">21</text>
<text transform="translate(0 733.65) scale(1.07 1)" x="894.86 903.95" y="0" font-size="15.81" fill="#000">22</text>
<text transform="translate(0 733.65) scale(1.07 1)" x="927.78 937.08" y="0" font-size="15.81" fill="#000">23</text>
<text transform="translate(0 649.80) scale(1.07 1)" x="112.56 121.62" y="0" font-size="15.81" fill="#000">30</text>
<text transform="translate(0 683.80) scale(1.07 1)" x="112.35 121.62" y="0" font-size="15.81" fill="#000">20</text>
<rect x="158.5" y="632.5" width="136.20" height="30.00" rx="3.3" ry="3.3" fill="#add8e6" fill-opacity="0.8" stroke="#ccc" stroke-opacity="0.8" stroke-width="1.2"/>
<path d="M164.8 646.5H199.1" stroke="#000000" stroke-width="1.39" fill="none"/>
<text transform="translate(0 652.30) scale(1.04 1)" x="203.74 214.02 224.07 229.24 239.41 249.69 255.45 270.76" y="0" font-size="17.25" fill="#000">10 µg/m³</text>
</g>
</svg>
</body></html>
